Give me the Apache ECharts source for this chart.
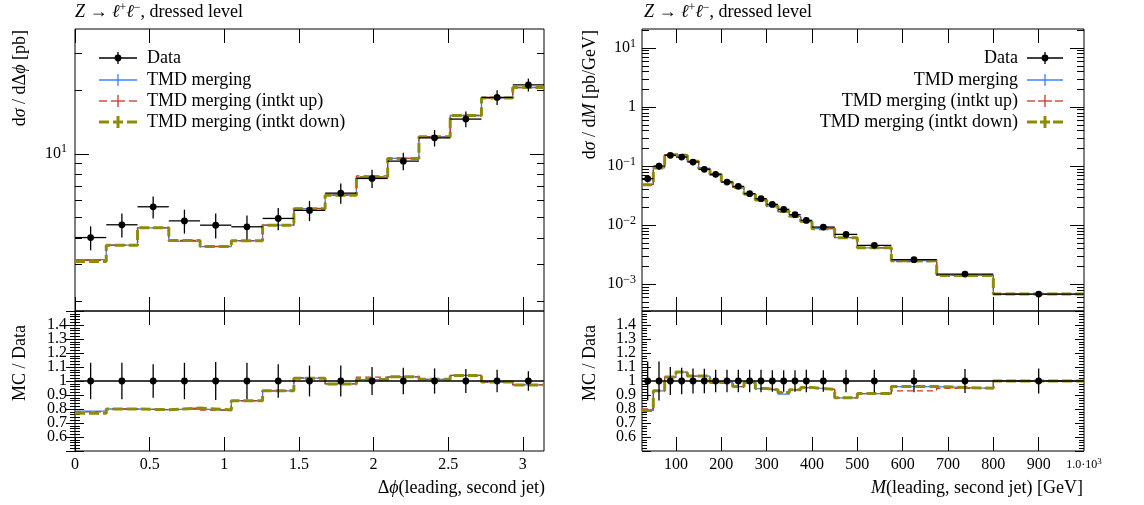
<!DOCTYPE html>
<html><head><meta charset="utf-8">
<script src="https://cdn.jsdelivr.net/npm/echarts@6/dist/echarts.min.js"></script>
<style>html,body{margin:0;padding:0;background:#fff}#c{width:1144px;height:505px}</style>
</head><body><div id="c"></div><script>
// ---------------- data ----------------
const legendLabels = ['Data', 'TMD merging', 'TMD merging (intkt up)', 'TMD merging (intkt down)'];

const dphiEdges = [0, 0.2094, 0.4189, 0.6283, 0.8378, 1.0472, 1.2566, 1.4661, 1.6755, 1.8850, 2.0944, 2.3038, 2.5133, 2.7227, 2.9322, 3.1416];
const dphiData = [4.01, 4.61, 5.61, 4.81, 4.59, 4.51, 4.94, 5.39, 6.51, 7.64, 9.23, 11.9, 14.6, 18.5, 21.2];
const dphiErr = [0.13, 0.13, 0.12, 0.13, 0.135, 0.13, 0.12, 0.11, 0.11, 0.10, 0.095, 0.09, 0.085, 0.08, 0.07];
const dphiMC = [3.15, 3.69, 4.46, 3.85, 3.63, 3.88, 4.59, 5.50, 6.38, 7.72, 9.51, 12.04, 15.18, 18.37, 20.6];
const dphiMCup = [3.13, 3.69, 4.46, 3.89, 3.64, 3.87, 4.59, 5.51, 6.37, 7.85, 9.51, 12.04, 15.18, 18.37, 20.6];
const dphiMCdown = [3.09, 3.69, 4.46, 3.88, 3.64, 3.87, 4.59, 5.49, 6.37, 7.72, 9.51, 12.04, 15.18, 18.37, 20.6];
const dphiRatio = [0.785, 0.80, 0.795, 0.80, 0.79, 0.86, 0.93, 1.02, 0.98, 1.01, 1.03, 1.012, 1.04, 0.993, 0.972];
const dphiRatioUp = [0.78, 0.80, 0.795, 0.808, 0.793, 0.859, 0.93, 1.022, 0.979, 1.028, 1.03, 1.012, 1.04, 0.993, 0.972];
const dphiRatioDown = [0.77, 0.80, 0.795, 0.807, 0.793, 0.859, 0.93, 1.019, 0.979, 1.01, 1.03, 1.012, 1.04, 0.993, 0.972];

const massEdges = [25, 50, 75, 100, 125, 150, 175, 200, 225, 250, 275, 300, 325, 350, 375, 400, 450, 500, 575, 675, 800, 1000];
const massData = [0.0611, 0.100, 0.152, 0.142, 0.117, 0.088, 0.0723, 0.0536, 0.0453, 0.034, 0.028, 0.0224, 0.0185, 0.015, 0.012, 0.00925, 0.00695, 0.00453, 0.00259, 0.00148, 0.000677];
const massErr = [0.14, 0.14, 0.10, 0.095, 0.09, 0.088, 0.08, 0.08, 0.08, 0.08, 0.08, 0.077, 0.077, 0.077, 0.08, 0.077, 0.08, 0.08, 0.08, 0.085, 0.09];
const massMC = [0.0483, 0.093, 0.156, 0.151, 0.121, 0.0911, 0.0716, 0.0531, 0.0435, 0.0337, 0.0265, 0.0209, 0.0168, 0.01406, 0.01144, 0.0087, 0.00612, 0.00412, 0.00249, 0.0014, 0.000677];
const massMCup = [0.0489, 0.093, 0.156, 0.151, 0.121, 0.0911, 0.0716, 0.0531, 0.0435, 0.0337, 0.0265, 0.0210, 0.0170, 0.01406, 0.01144, 0.0087, 0.00612, 0.00412, 0.00241, 0.0014, 0.000677];
const massMCdown = [0.0483, 0.093, 0.156, 0.151, 0.121, 0.0911, 0.0716, 0.0531, 0.0435, 0.0337, 0.0265, 0.0210, 0.0170, 0.01406, 0.01144, 0.0087, 0.00612, 0.00412, 0.00249, 0.0014, 0.000677];
const massRatio = [0.79, 0.93, 1.028, 1.064, 1.035, 1.035, 0.99, 0.99, 0.96, 0.99, 0.946, 0.932, 0.906, 0.937, 0.953, 0.94, 0.88, 0.91, 0.96, 0.948, 1.0];
const massRatioUp = [0.80, 0.93, 1.028, 1.064, 1.035, 1.035, 0.99, 0.99, 0.96, 0.99, 0.946, 0.937, 0.918, 0.937, 0.953, 0.94, 0.88, 0.91, 0.93, 0.948, 1.0];
const massRatioDown = [0.79, 0.93, 1.028, 1.064, 1.035, 1.035, 0.99, 0.99, 0.96, 0.99, 0.946, 0.937, 0.918, 0.937, 0.953, 0.94, 0.88, 0.91, 0.96, 0.948, 1.0];

// tick values
const dphiXTicks = [0, 0.5, 1, 1.5, 2, 2.5, 3];
const massXTicks = [100, 200, 300, 400, 500, 600, 700, 800, 900];
const massXLabels = [100, 200, 300, 400, 500, 600, 700, 800, 900, 1000];
const dphiYMajor = [10];
const dphiYMinor = [2, 3, 4, 5, 6, 7, 8, 9, 20, 30];
const massYMajor = [0.001, 0.01, 0.1, 1, 10];
const massYMinor = [0.0004, 0.0005, 0.0006, 0.0007, 0.0008, 0.0009,
  0.002, 0.003, 0.004, 0.005, 0.006, 0.007, 0.008, 0.009,
  0.02, 0.03, 0.04, 0.05, 0.06, 0.07, 0.08, 0.09,
  0.2, 0.3, 0.4, 0.5, 0.6, 0.7, 0.8, 0.9,
  2, 3, 4, 5, 6, 7, 8, 9, 20];

// ---------------- style ----------------
const FONT = 'Liberation Serif';
const C_BLUE = '#3f7fff', C_RED = '#c8342c', C_OLIVE = '#8c8c0a';
const TXT = 18, TICK = 16;

function stepPts(edges, vals) {
  const pts = [];
  for (let i = 0; i < vals.length; i++) { pts.push([edges[i], vals[i]]); pts.push([edges[i + 1], vals[i]]); }
  return pts;
}
function dataItems(edges, vals, errs) {
  return vals.map((v, i) => [edges[i], edges[i + 1], v, errs[i]]);
}
function ratioItems(edges, errs) {
  return errs.map((e, i) => [edges[i], edges[i + 1], e]);
}
function renderData(params, api) {
  const lo = api.value(0), hi = api.value(1), v = api.value(2), e = api.value(3);
  const c = (lo + hi) / 2;
  const a = api.coord([lo, v]), b = api.coord([hi, v]);
  const u = api.coord([c, v * (1 + e)]), d = api.coord([c, v * (1 - e)]), p = api.coord([c, v]);
  const st = { stroke: '#000', lineWidth: 1.3 };
  return { type: 'group', children: [
    { type: 'line', shape: { x1: a[0], y1: a[1], x2: b[0], y2: b[1] }, style: st },
    { type: 'line', shape: { x1: u[0], y1: u[1], x2: d[0], y2: d[1] }, style: st },
    { type: 'circle', shape: { cx: p[0], cy: p[1], r: 3.4 }, style: { fill: '#000' } }
  ] };
}
function renderRatioData(params, api) {
  const lo = api.value(0), hi = api.value(1), e = api.value(2);
  const c = (lo + hi) / 2;
  const u = api.coord([c, 1 + e]), d = api.coord([c, 1 - e]), p = api.coord([c, 1]);
  const st = { stroke: '#000', lineWidth: 1.3 };
  return { type: 'group', children: [
    { type: 'line', shape: { x1: u[0], y1: u[1], x2: d[0], y2: d[1] }, style: st },
    { type: 'circle', shape: { cx: p[0], cy: p[1], r: 3.4 }, style: { fill: '#000' } }
  ] };
}

const supRich = { s: { fontFamily: FONT, fontSize: 12, color: '#000', padding: [0, 0, 9, 0] } };
function logFmt(v) {
  const e = Math.round(Math.log10(v));
  if (e === 0) return '1';
  return '10{s|' + (e < 0 ? '\u2212' : '') + Math.abs(e) + '}';
}

function xAx(gridIndex, position, min, max, ticks, labels, fmt) {
  return {
    type: 'value', gridIndex, position, min, max,
    axisLine: { show: false }, splitLine: { show: false },
    axisTick: { show: true, inside: true, length: 14, customValues: ticks, lineStyle: { color: '#000', width: 1 } },
    axisLabel: labels ? { show: true, customValues: labels, margin: 6, fontFamily: FONT, fontSize: TICK, color: '#000',
      formatter: fmt, rich: { a: { fontFamily: FONT, fontSize: 12, color: '#000' }, t: { fontFamily: FONT, fontSize: 9, color: '#000', padding: [0, 0, 7, 0] } } } : { show: false }
  };
}
function logAx(gridIndex, position, min, max, ticks, len, labels, margin) {
  return {
    type: 'log', logBase: 10, gridIndex, position, min, max,
    axisLine: { show: false }, splitLine: { show: false }, minorTick: { show: false },
    axisTick: { show: true, inside: true, length: len, customValues: ticks, lineStyle: { color: '#000', width: 1 } },
    axisLabel: labels ? { show: true, customValues: labels, margin, fontFamily: FONT, fontSize: TICK, color: '#000', formatter: logFmt, rich: supRich } : { show: false }
  };
}
function ratioAx(gridIndex, position, labels, margin) {
  return {
    type: 'value', gridIndex, position, min: 0.5, max: 1.5, interval: 0.1,
    axisLine: { show: false }, splitLine: { show: false },
    axisTick: { show: true, inside: true, length: 9, lineStyle: { color: '#000', width: 1 } },
    minorTick: { show: true, splitNumber: 5, length: 5, lineStyle: { color: '#000', width: 1 } },
    axisLabel: labels ? { show: true, margin, fontFamily: FONT, fontSize: TICK, color: '#000', showMinLabel: false, showMaxLabel: false,
      formatter: v => String(Math.round(v * 10) / 10) } : { show: false }
  };
}

const gridBase = { show: true, borderColor: '#000', borderWidth: 1, backgroundColor: 'transparent', containLabel: false, outerBoundsMode: 'none' };
const grids = [
  Object.assign({ left: 75, top: 29, width: 469, height: 282 }, gridBase),
  Object.assign({ left: 75, top: 311, width: 469, height: 140 }, gridBase),
  Object.assign({ left: 642, top: 29, width: 442, height: 282 }, gridBase),
  Object.assign({ left: 642, top: 311, width: 442, height: 140 }, gridBase)
];

const PI = 3.14159265;
const massFmt = v => (v === 1000 ? '{a|1.0\u00b710}{t|3}' : String(v));
const xAxes = [
  xAx(0, 'bottom', 0, PI, dphiXTicks, null),
  xAx(0, 'top', 0, PI, dphiXTicks, null),
  xAx(1, 'bottom', 0, PI, dphiXTicks, dphiXTicks, v => String(v)),
  xAx(1, 'top', 0, PI, dphiXTicks, null),
  xAx(2, 'bottom', 25, 1000, massXTicks, null),
  xAx(2, 'top', 25, 1000, massXTicks, null),
  xAx(3, 'bottom', 25, 1000, massXTicks, massXLabels, massFmt),
  xAx(3, 'top', 25, 1000, massXTicks, null)
];
const yAxes = [
  logAx(0, 'left', 1.8, 39, dphiYMajor, 14, dphiYMajor, 8),   // 0
  logAx(0, 'left', 1.8, 39, dphiYMinor, 7, null),             // 1
  logAx(0, 'right', 1.8, 39, dphiYMajor, 14, null),           // 2
  logAx(0, 'right', 1.8, 39, dphiYMinor, 7, null),            // 3
  ratioAx(1, 'left', true, 8),                                // 4
  ratioAx(1, 'right', false),                                 // 5
  logAx(2, 'left', 3.5e-4, 21, massYMajor, 14, massYMajor, 6),// 6
  logAx(2, 'left', 3.5e-4, 21, massYMinor, 7, null),          // 7
  logAx(2, 'right', 3.5e-4, 21, massYMajor, 14, null),        // 8
  logAx(2, 'right', 3.5e-4, 21, massYMinor, 7, null),         // 9
  ratioAx(3, 'left', true, 6),                                // 10
  ratioAx(3, 'right', false)                                  // 11
];

function mcSeries(name, pts, xi, yi, kind) {
  const ls = kind === 'blue' ? { color: C_BLUE, width: 1.3, type: 'solid' }
    : kind === 'red' ? { color: C_RED, width: 1.3, type: [6, 4] }
    : { color: C_OLIVE, width: 3, type: [10, 4] };
  return { name, type: 'line', data: pts, xAxisIndex: xi, yAxisIndex: yi, showSymbol: false, symbol: 'none',
    lineStyle: ls, itemStyle: { color: ls.color }, animation: false, silent: true, clip: true, z: kind === 'olive' ? 4 : 3 };
}
function dataSeries(items, xi, yi) {
  return { type: 'custom', data: items, xAxisIndex: xi, yAxisIndex: yi, renderItem: renderData,
    encode: { x: [0, 1], y: 2 }, animation: false, silent: true, z: 6, clip: false };
}
function ratioDataSeries(items, xi, yi) {
  return { type: 'custom', data: items, xAxisIndex: xi, yAxisIndex: yi, renderItem: renderRatioData,
    encode: { x: [0, 1] }, animation: false, silent: true, z: 6, clip: false,
    markLine: { silent: true, symbol: 'none', animation: false, label: { show: false },
      lineStyle: { color: '#000', width: 1.5, type: 'solid' }, data: [{ yAxis: 1 }] } };
}

const series = [
  mcSeries(legendLabels[1], stepPts(dphiEdges, dphiMC), 0, 0, 'blue'),
  mcSeries(legendLabels[2], stepPts(dphiEdges, dphiMCup), 0, 0, 'red'),
  mcSeries(legendLabels[3], stepPts(dphiEdges, dphiMCdown), 0, 0, 'olive'),
  dataSeries(dataItems(dphiEdges, dphiData, dphiErr), 0, 0),
  mcSeries(legendLabels[1], stepPts(dphiEdges, dphiRatio), 2, 4, 'blue'),
  mcSeries(legendLabels[2], stepPts(dphiEdges, dphiRatioUp), 2, 4, 'red'),
  mcSeries(legendLabels[3], stepPts(dphiEdges, dphiRatioDown), 2, 4, 'olive'),
  ratioDataSeries(ratioItems(dphiEdges, dphiErr), 2, 4),
  mcSeries(legendLabels[1], stepPts(massEdges, massMC), 4, 6, 'blue'),
  mcSeries(legendLabels[2], stepPts(massEdges, massMCup), 4, 6, 'red'),
  mcSeries(legendLabels[3], stepPts(massEdges, massMCdown), 4, 6, 'olive'),
  dataSeries(dataItems(massEdges, massData, massErr), 4, 6),
  mcSeries(legendLabels[1], stepPts(massEdges, massRatio), 6, 10, 'blue'),
  mcSeries(legendLabels[2], stepPts(massEdges, massRatioUp), 6, 10, 'red'),
  mcSeries(legendLabels[3], stepPts(massEdges, massRatioDown), 6, 10, 'olive'),
  ratioDataSeries(ratioItems(massEdges, massErr), 6, 10)
];

// ---------------- text & legend graphics ----------------
const richBase = {
  i: { fontFamily: FONT, fontStyle: 'italic', fontSize: TXT, fill: '#000' },
  r: { fontFamily: FONT, fontSize: TXT, fill: '#000' },
  p: { fontFamily: FONT, fontSize: 12, fill: '#000', padding: [0, 0, 8, 0] }
};
function text(x, y, t, opt) {
  return Object.assign({ type: 'text', x, y, silent: true,
    style: Object.assign({ text: t, fontFamily: FONT, fontSize: TXT, fill: '#000', align: 'left', verticalAlign: 'middle', rich: richBase }, (opt && opt.style) || {}) },
    (opt && opt.el) || {});
}
function legendGroup(x0, x1, textX, align, ys) {
  const cx = (x0 + x1) / 2, els = [];
  const L = (a, b, c, d, st) => els.push({ type: 'line', silent: true, shape: { x1: a, y1: b, x2: c, y2: d }, style: st });
  // Data
  L(x0, ys[0], x1, ys[0], { stroke: '#000', lineWidth: 1.3 });
  L(cx, ys[0] - 6, cx, ys[0] + 6, { stroke: '#000', lineWidth: 1.3 });
  els.push({ type: 'circle', silent: true, shape: { cx, cy: ys[0], r: 3.4 }, style: { fill: '#000' } });
  // blue
  L(x0, ys[1], x1, ys[1], { stroke: C_BLUE, lineWidth: 1.3 });
  L(cx, ys[1] - 6, cx, ys[1] + 6, { stroke: C_BLUE, lineWidth: 1.3 });
  // red
  const rs = { stroke: C_RED, lineWidth: 1.3 };
  L(x0, ys[2], x0 + 8, ys[2], rs); L(cx - 7, ys[2], cx + 7, ys[2], rs); L(x1 - 8, ys[2], x1, ys[2], rs);
  L(cx, ys[2] - 6, cx, ys[2] + 6, rs);
  // olive
  const os = { stroke: C_OLIVE, lineWidth: 3 };
  L(x0, ys[3], x0 + 10, ys[3], os); L(cx - 5, ys[3], cx + 5, ys[3], os); L(x1 - 10, ys[3], x1, ys[3], os);
  L(cx, ys[3] - 6, cx, ys[3] + 6, os);
  legendLabels.forEach((lab, i) => els.push(text(textX, ys[i], lab, { style: { align } })));
  return els;
}
const legendYs = [58, 80, 101, 122];
const titleStr = '{i|Z} \u2192 {i|\u2113}{p|+}{i|\u2113}{p|\u2212}, dressed level';
const graphics = [].concat(
  [
    text(75, 12, titleStr),
    text(644, 12, titleStr),
    text(20, 30, 'd{i|\u03c3} / d\u0394{i|\u03d5} [pb]', { style: { align: 'right' }, el: { rotation: Math.PI / 2 } }),
    text(590, 30, 'd{i|\u03c3} / d{i|M} [pb/GeV]', { style: { align: 'right' }, el: { rotation: Math.PI / 2 } }),
    text(20, 325, 'MC / Data', { style: { align: 'right' }, el: { rotation: Math.PI / 2 } }),
    text(590, 325, 'MC / Data', { style: { align: 'right' }, el: { rotation: Math.PI / 2 } }),
    text(545, 488, '\u0394{i|\u03d5}(leading, second jet)', { style: { align: 'right' } }),
    text(1083, 488, '{i|M}(leading, second jet) [GeV]', { style: { align: 'right' } })
  ],
  legendGroup(99, 137, 147, 'left', legendYs),
  legendGroup(1027, 1063, 1018, 'right', legendYs)
);

const chart = echarts.init(document.getElementById('c'), null, { renderer: 'canvas' });
chart.setOption({
  animation: false,
  backgroundColor: '#fff',
  grid: grids,
  xAxis: xAxes,
  yAxis: yAxes,
  series,
  graphic: graphics
});
</script></body></html>
